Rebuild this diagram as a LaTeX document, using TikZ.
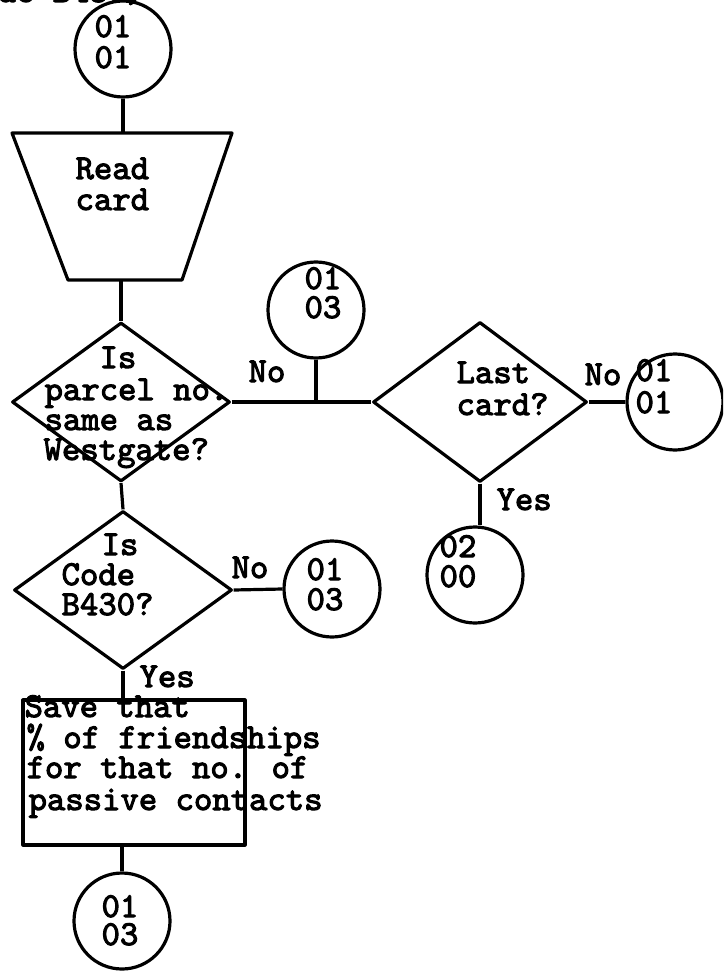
\documentclass[tikz,border=0pt]{standalone}
\usepackage{fontspec}
\newfontfamily\twfont[FakeBold=3]{lmmono10-regular.otf}
\usetikzlibrary{shapes.geometric}
\begin{document}
\begin{tikzpicture}[x=1pt, y=-1pt, line width=3.2pt, line join=round,
  tw/.style={font=\fontsize{35}{31}\twfont, inner sep=0pt, anchor=base west},
  conn/.style={circle, draw, minimum size=96pt, inner sep=0pt},
  decision/.style={diamond, draw, inner sep=0pt},
  process/.style={rectangle, draw, inner sep=0pt}]
\useasboundingbox (0,0) rectangle (723,973);
\clip (0,0) rectangle (723,973);

% heading, cut by the page edge
\node[tw] (head) at (-4,2) {de B430)};

% connectors (circles)
\node[conn] (c1) at (123,49) {};
\node[conn] (c2) at (316,310) {};
\node[conn] (c3) at (675,402) {};
\node[conn] (c4) at (475,575) {};
\node[conn] (c5) at (332,589) {};
\node[conn] (c6) at (122,921) {};

% input: read card
\coordinate (tl) at (12,133);
\coordinate (tr) at (232,133);
\coordinate (br) at (182,280);
\coordinate (bl) at (68,280);
\coordinate (readtop) at (123,133);
\coordinate (readbot) at (121,280);
\draw (tl) -- (tr) -- (br) -- (bl) -- cycle;

% decisions
\node[decision, minimum width=218pt, minimum height=159pt] (d1) at (121,402) {};
\node[decision, minimum width=214pt, minimum height=160pt] (d2) at (480,402) {};
\node[decision, minimum width=218pt, minimum height=158pt] (d3) at (123,590) {};

% process box
\node[process, minimum width=222pt, minimum height=145pt] (save) at (134,772.5) {};

% flow lines
\draw (c1.south) -- (readtop);
\draw (readbot) -- (d1.north);
\draw (d1.east) -- (d2.west);
\draw (c2.south) -- (c2.south |- d1.east);
\draw (d2.east) -- (c3.west);
\draw (d2.south) -- (d2.south |- c4.north);
\draw (d1.south) -- (d3.north);
\draw (d3.east) -- (c5.west);
\draw (d3.south) -- (d3.south |- save.north);
\draw (c6.north |- save.south) -- (c6.north);

% texts
\node[tw] (c1a) at (93,37) {01};
\node[tw] (c1b) at (93,68) {01};
\node[tw] (rd1) at (74,179) {Read};
\node[tw] (rd2) at (74,210) {card};
\node[tw] (c2a) at (303,289) {01};
\node[tw] (c2b) at (303,318) {03};
\node[tw] (d1a) at (98,368) {Is};
\node[tw] (d1b) at (43,400) {parcel no.};
\node[tw] (d1c) at (43,430) {same as};
\node[tw] (d1d) at (42,460) {Westgate?};
\node[tw] (no1) at (247,382) {No};
\node[tw] (d2a) at (455,383) {Last};
\node[tw] (d2b) at (455,415) {card?};
\node[tw] (no2) at (583,385) {No};
\node[tw] (c3a) at (634,381) {01};
\node[tw] (c3b) at (634,413) {01};
\node[tw] (yes2) at (495,510) {Yes};
\node[tw] (c4a) at (438,557) {02};
\node[tw] (c4b) at (438,587) {00};
\node[tw] (d3a) at (100,555) {Is};
\node[tw] (d3b) at (60,585) {Code};
\node[tw] (d3c) at (60,615) {B430?};
\node[tw] (no3) at (230,578) {No};
\node[tw] (c5a) at (305,580) {01};
\node[tw] (c5b) at (305,610) {03};
\node[tw] (yes3) at (138,687) {Yes};
\node[tw] (sv1) at (23,717) {Save that};
\node[tw] (sv2) at (25,748) {\% of friendships};
\node[tw] (sv3) at (25,778) {for that no. of};
\node[tw] (sv4) at (27,810) {passive contacts};
\node[tw] (c6a) at (100,917) {01};
\node[tw] (c6b) at (100,945) {03};
\end{tikzpicture}
\end{document}
